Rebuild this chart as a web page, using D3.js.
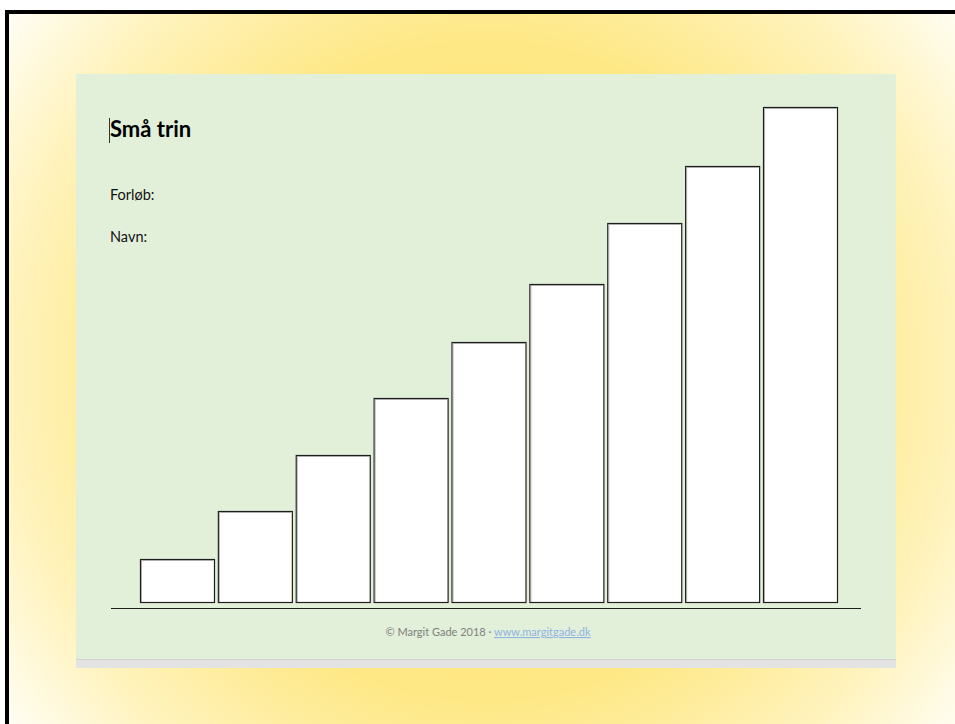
<!DOCTYPE html>
<meta charset="utf-8">
<style>
body { margin: 0; background: #fff; }
text { font-family: Lato, "Open Sans", sans-serif; }
</style>
<svg width="955" height="724"></svg>
<script src="https://cdn.jsdelivr.net/npm/d3@7"></script>
<script>

// steps of the staircase and their heights
var steps = ["1", "2", "3", "4", "5", "6", "7", "8", "9"];
var heights = [43, 91, 147, 204, 260, 318, 379, 436, 495];
var labels = ["Forløb:", "Navn:"];

var svg = d3.select("svg");

// yellow glow behind the page
var defs = svg.append("defs");
var glow = defs.append("radialGradient")
    .attr("id", "glow")
    .attr("gradientUnits", "userSpaceOnUse")
    .attr("cx", 486).attr("cy", 371).attr("r", 600);
glow.append("stop").attr("offset", 0).attr("stop-color", "#ffe36c");
glow.append("stop").attr("offset", 0.55).attr("stop-color", "#fee886");
glow.append("stop").attr("offset", 0.8).attr("stop-color", "#fff3bd");
glow.append("stop").attr("offset", 1).attr("stop-color", "#fffef6");

svg.append("rect")
    .attr("x", 7).attr("y", 12)
    .attr("width", 960).attr("height", 720)
    .attr("fill", "url(#glow)")
    .attr("stroke", "#000")
    .attr("stroke-width", 4);

// page
svg.append("rect")
    .attr("x", 76).attr("y", 659)
    .attr("width", 820).attr("height", 9)
    .attr("fill", "#e3e3e3");
svg.append("line")
    .attr("x1", 76).attr("x2", 896)
    .attr("y1", 659.5).attr("y2", 659.5)
    .attr("stroke", "#d2d2d2");
svg.append("rect")
    .attr("x", 76).attr("y", 74)
    .attr("width", 820).attr("height", 585)
    .attr("fill", "#e2efd9");

// title + cursor
svg.append("text")
    .attr("x", 110).attr("y", 137)
    .attr("font-size", 22)
    .attr("font-weight", "bold")
    .attr("fill", "#000")
    .text("Små trin");
svg.append("line")
    .attr("x1", 109.5).attr("x2", 109.5)
    .attr("y1", 118).attr("y2", 143)
    .attr("stroke", "#333");

svg.selectAll(".lbl")
  .data(labels)
  .enter().append("text")
    .attr("class", "lbl")
    .attr("x", 110)
    .attr("y", function(d, i) { return 200 + i * 42; })
    .attr("font-size", 14.5)
    .attr("fill", "#111")
    .text(function(d) { return d; });

var x = d3.scaleBand()
    .domain(steps)
    .range([140, 837])
    .paddingInner(0.05)
    .paddingOuter(0);

var y = d3.scaleLinear()
    .domain([0, 495])
    .range([602, 107]);

var bars = svg.append("g").attr("class", "bars");

bars.selectAll("rect")
  .data(heights)
  .enter().append("rect")
    .attr("x", function(d, i) { return x(steps[i]) + 0.5; })
    .attr("y", function(d) { return y(d) + 0.5; })
    .attr("width", x.bandwidth())
    .attr("height", function(d) { return y(0) - y(d); })
    .attr("fill", "#fff")
    .attr("stroke", "#1e1e1e")
    .attr("stroke-width", 1.2);

// soft grey inner edge on left/top like the original shapes
bars.selectAll("path")
  .data(heights)
  .enter().append("path")
    .attr("d", function(d, i) {
      var x0 = x(steps[i]) + 1.5, y0 = y(d) + 1.5;
      return "M" + x0 + "," + y(0) + "V" + y0 + "H" + (x0 + x.bandwidth() - 2);
    })
    .attr("fill", "none")
    .attr("stroke", "#9a9a9a")
    .attr("stroke-width", 0.8);

// ground line
svg.append("line")
    .attr("x1", 111).attr("x2", 861)
    .attr("y1", 608.5).attr("y2", 608.5)
    .attr("stroke", "#1e1e1e")
    .attr("stroke-width", 1.2);

// footer
var foot = svg.append("text")
    .attr("x", 488).attr("y", 636)
    .attr("text-anchor", "middle")
    .attr("font-size", 11)
    .attr("fill", "#808080");
foot.append("tspan").text("© Margit Gade 2018 · ");
foot.append("tspan")
    .attr("fill", "#8db3e2")
    .attr("text-decoration", "underline")
    .text("www.margitgade.dk");

</script>
